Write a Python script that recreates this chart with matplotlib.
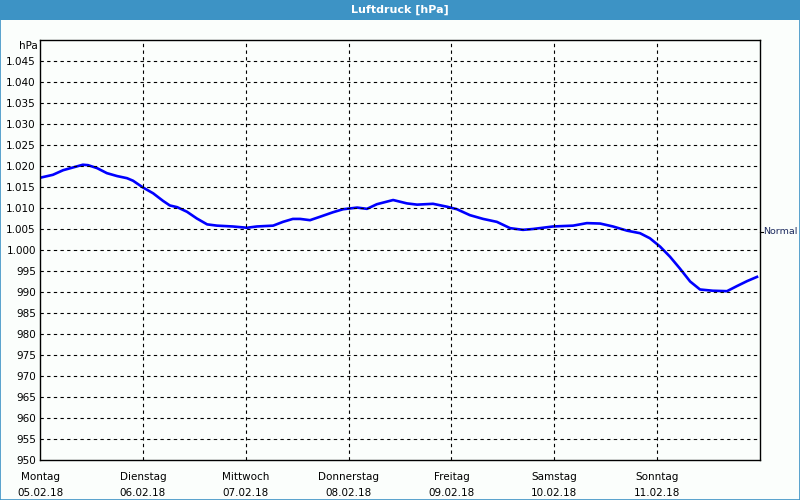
import matplotlib
matplotlib.use("Agg")
import matplotlib.pyplot as plt
from matplotlib.patches import Rectangle

# hours since Montag 05.02.18 00:00 and pressure in hPa
HOURS = [0, 3.0, 5.4, 10.0, 11.2, 13.3, 15.6, 18.0, 20.3, 21.7, 24.0, 26.4, 28.7, 30.3,
         32.0, 34.3, 36.6, 39.0, 41.3, 45.0, 48.3, 50.6, 54.4, 56.7, 59.0, 60.7, 63.0,
         65.3, 68.4, 70.7, 74.0, 76.3, 78.6, 82.4, 85.6, 88.0, 91.7, 95.0, 97.3, 100.3,
         103.4, 106.6, 109.7, 112.7, 115.0, 119.7, 124.4, 127.6, 130.7, 133.7, 137.0,
         140.0, 142.3, 144.7, 147.0, 149.3, 151.7, 154.0, 157.0, 160.3, 162.6, 165.0, 167.3]
PRESSURE = [1017.2, 1017.9, 1019.0, 1020.3, 1020.2, 1019.5, 1018.3, 1017.6, 1017.1, 1016.5,
            1014.9, 1013.5, 1011.7, 1010.6, 1010.2, 1009.1, 1007.5, 1006.1, 1005.8, 1005.6,
            1005.3, 1005.6, 1005.8, 1006.7, 1007.4, 1007.4, 1007.1, 1007.9, 1009.0, 1009.7,
            1010.1, 1009.8, 1010.9, 1011.9, 1011.1, 1010.8, 1011.0, 1010.3, 1009.7, 1008.3,
            1007.4, 1006.7, 1005.2, 1004.8, 1005.0, 1005.6, 1005.8, 1006.4, 1006.3, 1005.6,
            1004.6, 1004.0, 1002.8, 1000.8, 998.4, 995.6, 992.5, 990.6, 990.3, 990.2,
            991.4, 992.6, 993.6]

DAY_NAMES = ["Montag", "Dienstag", "Mittwoch", "Donnerstag", "Freitag", "Samstag", "Sonntag"]
DAY_DATES = ["05.02.18", "06.02.18", "07.02.18", "08.02.18", "09.02.18", "10.02.18", "11.02.18"]
Y_TICKS = list(range(950, 1050, 5))
NORMAL = 1004.3

BG = "#fbfefc"
BAR = "#3d93c5"

fig = plt.figure(figsize=(8, 5), dpi=100, facecolor=BG)

# title bar and window border
fig.patches.append(Rectangle((0, 0.96), 1, 0.04, transform=fig.transFigure,
                             facecolor=BAR, edgecolor="none"))
fig.patches.append(Rectangle((0.0006, 0.001), 0.9988, 0.998, transform=fig.transFigure,
                             facecolor="none", edgecolor=BAR, linewidth=1.2))
fig.text(0.5, 0.98, "Luftdruck [hPa]", color="white", fontsize=8, fontweight="bold",
         ha="center", va="center")

ax = fig.add_axes([0.05, 0.08, 0.90, 0.84])
ax.set_facecolor(BG)
ax.plot(HOURS, PRESSURE, color="#0000ff", linewidth=1.9, solid_joinstyle="round")

ax.set_xlim(0, 168)
ax.set_ylim(950, 1050)

day_ticks = [24 * i for i in range(len(DAY_NAMES))]
ax.set_xticks(day_ticks)
ax.set_xticklabels([f"{n}\n{d}" for n, d in zip(DAY_NAMES, DAY_DATES)], fontsize=7.5,
                   linespacing=1.7)
ax.set_yticks(Y_TICKS)
ax.set_yticklabels([f"{v // 1000}.{v % 1000:03d}" if v >= 1000 else str(v) for v in Y_TICKS],
                   fontsize=7.5)
ax.tick_params(axis="both", length=0, pad=3)
ax.tick_params(axis="x", pad=9)

for y in Y_TICKS[1:]:
    ax.axhline(y, color="black", linestyle=(0, (3, 3)), linewidth=0.8)
for x in day_ticks[1:]:
    ax.axvline(x, color="black", linestyle=(0, (3, 3)), linewidth=0.8)

for side in ["left", "right", "top", "bottom"]:
    ax.spines[side].set_color("black")
    ax.spines[side].set_linewidth(1.0)

ax.text(-0.5, 1048.6, "hPa", fontsize=7.5, ha="right", va="center", transform=ax.transData)
ax.plot([168, 168.8], [NORMAL, NORMAL], color="black", linewidth=0.8, clip_on=False)
ax.text(168.7, NORMAL, "Normal", fontsize=6.8, color="#1c2a5e", ha="left", va="center")

fig.savefig("out.png", dpi=100, facecolor=BG)
